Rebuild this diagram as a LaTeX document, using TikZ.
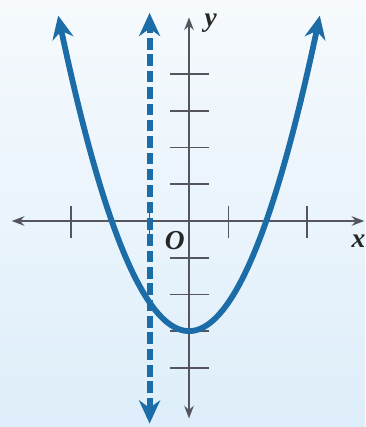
\documentclass[tikz,border=0pt]{standalone}
\usepackage{fontspec}
\setmainfont{Liberation Serif}
\usetikzlibrary{arrows.meta}

\definecolor{curveblue}{RGB}{28,108,168}
\definecolor{axisgray}{RGB}{85,85,95}
\definecolor{bgtop}{RGB}{246,250,253}
\definecolor{bgbot}{RGB}{222,238,250}

\tikzset{
  axis/.style={axisgray, line width=1.9pt, {Stealth[length=12pt,width=9pt]}-{Stealth[length=12pt,width=9pt]}},
  tick/.style={axisgray, line width=1.6pt},
  curve/.style={curveblue, line width=5.5pt, {Stealth[length=22pt,width=20pt]}-{Stealth[length=22pt,width=20pt]}},
  guide/.style={curve, dash pattern=on 11pt off 4.5pt},
  lab/.style={font=\fontsize{26}{30}\selectfont\bfseries\itshape, text=black!85, inner sep=0pt}
}

\begin{document}
\begin{tikzpicture}[x=1.313cm, y=1.223cm]
  % background
  \useasboundingbox (-4.797,-5.613) rectangle (4.467,6.022);
  \shade[top color=bgtop, bottom color=bgbot] (-4.797,-5.613) rectangle (4.467,6.022);
  % axis ends
  \coordinate (xl) at (-4.5,0);
  \coordinate (xr) at (4.45,0);
  \coordinate (yb) at (0,-5.38);
  \coordinate (yt) at (0,5.55);
  % ticks
  \foreach \t in {-4,-3,-2,-1,1,2,3,4}
    \draw[tick] (-0.47,\t) -- (0.52,\t);
  \foreach \t in {-3,-1,1,3}
    \draw[tick] (\t,0.42) -- (\t,-0.47);
  % axes
  \draw[axis] (xl) -- (xr);
  \draw[axis] (yb) -- (yt);
  % labels
  \node[lab] (ylab) at (0.55,5.4) {y};
  \node[lab] (olab) at (-0.36,-0.52) {O};
  \node[lab] (xlab) at (4.3,-0.55) {x};
  % dashed line x = -1
  \coordinate (dtop) at (-1,5.67);
  \coordinate (dbot) at (-1,-5.52);
  \draw[guide] (dbot) -- (dtop);
  % parabola
  \draw[curve] plot[domain=-3.32:3.32, samples=80, smooth] (\x,{0.78*\x*\x-3});
\end{tikzpicture}
\end{document}
